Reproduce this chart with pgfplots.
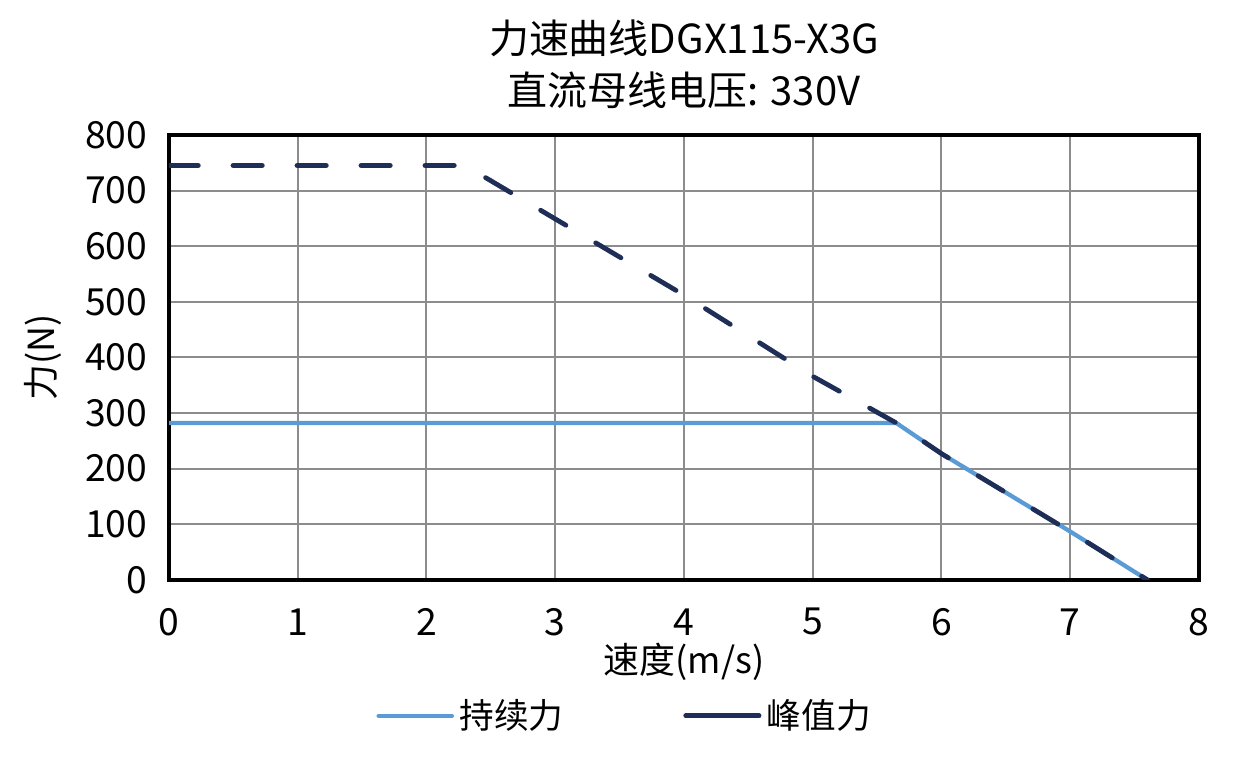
\documentclass[border=0pt]{standalone}
\usepackage{fontspec}
\setmainfont{Noto Sans CJK SC}
\usepackage{pgfplots}
\pgfplotsset{compat=1.18}
\definecolor{cblue}{RGB}{91,155,213}
\definecolor{cnavy}{RGB}{31,46,87}
\definecolor{cgrid}{RGB}{140,140,140}
\begin{document}
\begin{tikzpicture}
\path[use as bounding box] (-63.4pt,-68.6pt) rectangle (406.6pt,217.5pt);
\begin{axis}[
 at={(0pt,0pt)}, anchor=south west,
 scale only axis, width=386.3pt, height=166.9pt,
 xmin=0, xmax=8, ymin=0, ymax=800,
 xtick={0,1,...,8}, ytick={0,100,...,800},
 grid=major, major grid style={cgrid, line width=0.75pt},
 major tick length=0pt,
 axis line style={black, line width=1.3pt},
 tick label style={font=\fontsize{14}{17}\selectfont},
 /pgf/number format/assume math mode=true,
 xticklabel style={anchor=center, yshift=-15.75pt},
 yticklabel style={anchor=east, inner sep=0pt, xshift=-7.9pt},
 xlabel={速度(m/s)},
 xlabel style={at={(axis description cs:0.5,-0.184)}, anchor=center, font=\fontsize{13.5}{16}\selectfont},
 ylabel={力(N)},
 ylabel style={at={(axis description cs:-0.122,0.5)}, anchor=center, font=\fontsize{13.5}{16}\selectfont},
 title={力速曲线DGX115-X3G\\直流母线电压: 330V},
 title style={at={(axis description cs:0.5,1.123)}, anchor=center, align=center, font=\fontsize{15}{19.5}\selectfont},
 legend columns=2,
 legend style={draw=none, at={(axis description cs:0.444,-0.3056)}, anchor=center, font=\fontsize{13}{15}\selectfont, /tikz/every even column/.append style={column sep=43pt}},
 legend image code/.code={\draw[#1, solid, line cap=round] (0pt,0pt) -- (27.5pt,0pt);},
]
\addplot[cblue, line width=1.6pt] coordinates {(0,282)(5.65,282)(6,227)(7,87)(7.6,0)};
\addlegendentry{持续力}
\addplot[cnavy, line width=1.8pt, line cap=round, line join=round, dash pattern=on 11pt off 13pt] coordinates {(0,745)(2.3,745)(3,649)(4,512)(5,366)(5.65,282)(6,227)(7,87)(7.6,0)};
\addlegendentry{峰值力}
\end{axis}
\end{tikzpicture}
\end{document}
